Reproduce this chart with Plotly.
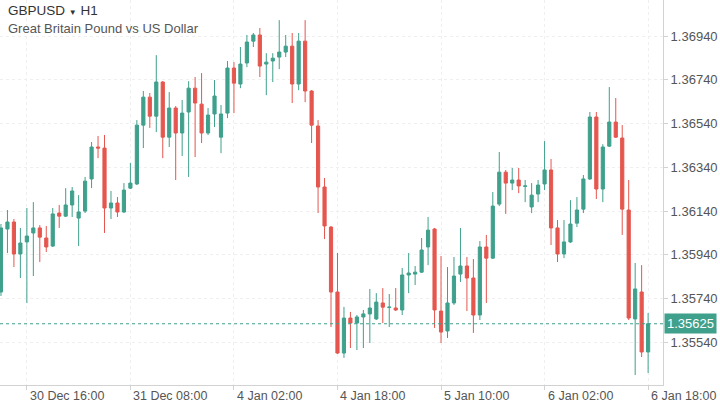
import plotly.graph_objects as go

# ---- data (GBPUSD, H1) ----
candle_idx = list(range(101))
opens = [1.35770, 1.36058, 1.36090, 1.35944, 1.35999, 1.36040, 1.36063, 1.36017, 1.35980, 1.36131,
         1.36117, 1.36168, 1.36108, 1.36140, 1.36287, 1.36433, 1.36428, 1.36154, 1.36177, 1.36136,
         1.36245, 1.36264, 1.36533, 1.36661, 1.36574, 1.36730, 1.36478, 1.36611, 1.36497, 1.36593,
         1.36702, 1.36629, 1.36497, 1.36584, 1.36478, 1.36588, 1.36794, 1.36721, 1.36817, 1.36917,
         1.36945, 1.36812, 1.36826, 1.36844, 1.36867, 1.36894, 1.36721, 1.36917, 1.36689, 1.36529,
         1.36250, 1.36067, 1.35770, 1.35491, 1.35651, 1.35628, 1.35656, 1.35670, 1.35647, 1.35720,
         1.35699, 1.35697, 1.35688, 1.35848, 1.35852, 1.35861, 1.35976, 1.36058, 1.35683, 1.35592,
         1.35720, 1.35852, 1.35889, 1.35834, 1.35665, 1.35976, 1.35925, 1.36172, 1.36318, 1.36268,
         1.36282, 1.36253, 1.36159, 1.36218, 1.36264, 1.36328, 1.36063, 1.35944, 1.35999, 1.36085,
         1.36149, 1.36287, 1.36570, 1.36241, 1.36437, 1.36547, 1.36474, 1.36145, 1.35647, 1.35770,
         1.35496]
highs = [1.36081, 1.36145, 1.36104, 1.36063, 1.36154, 1.36181, 1.36076, 1.36072, 1.36154, 1.36168,
         1.36245, 1.36250, 1.36213, 1.36296, 1.36456, 1.36483, 1.36488, 1.36232, 1.36204, 1.36268,
         1.36360, 1.36556, 1.36689, 1.36680, 1.36853, 1.36734, 1.36684, 1.36620, 1.36648, 1.36734,
         1.36753, 1.36771, 1.36611, 1.36739, 1.36625, 1.36826, 1.36821, 1.36890, 1.36945, 1.36954,
         1.36977, 1.36862, 1.36862, 1.37013, 1.36945, 1.36954, 1.36954, 1.37013, 1.36693, 1.36556,
         1.36291, 1.36072, 1.35948, 1.35702, 1.35679, 1.35665, 1.35688, 1.35784, 1.35765, 1.35788,
         1.35761, 1.35788, 1.35880, 1.35948, 1.35889, 1.36017, 1.36113, 1.36063, 1.35935, 1.35884,
         1.35930, 1.36063, 1.35930, 1.35921, 1.36003, 1.36031, 1.36227, 1.36410, 1.36328, 1.36337,
         1.36337, 1.36282, 1.36268, 1.36282, 1.36460, 1.36378, 1.36099, 1.36099, 1.36190, 1.36204,
         1.36305, 1.36593, 1.36593, 1.36446, 1.36707, 1.36657, 1.36533, 1.36282, 1.35903, 1.35893,
         1.35674]
lows = [1.35752, 1.35948, 1.35884, 1.35834, 1.35720, 1.35843, 1.35907, 1.35953, 1.35976, 1.36063,
        1.36113, 1.36113, 1.35980, 1.36131, 1.36245, 1.36382, 1.36040, 1.36104, 1.36113, 1.36131,
        1.36241, 1.36259, 1.36428, 1.36520, 1.36501, 1.36382, 1.36433, 1.36282, 1.36392, 1.36296,
        1.36387, 1.36451, 1.36488, 1.36524, 1.36405, 1.36565, 1.36588, 1.36702, 1.36798, 1.36890,
        1.36753, 1.36670, 1.36730, 1.36789, 1.36844, 1.36634, 1.36693, 1.36638, 1.36451, 1.36131,
        1.36012, 1.35610, 1.35487, 1.35469, 1.35514, 1.35505, 1.35514, 1.35537, 1.35642, 1.35628,
        1.35610, 1.35683, 1.35665, 1.35765, 1.35802, 1.35857, 1.35893, 1.35606, 1.35537, 1.35560,
        1.35711, 1.35816, 1.35683, 1.35583, 1.35642, 1.35720, 1.35921, 1.36163, 1.36127, 1.36236,
        1.36222, 1.36181, 1.36131, 1.36181, 1.36236, 1.35985, 1.35907, 1.35925, 1.35994, 1.36067,
        1.36131, 1.36282, 1.36195, 1.36181, 1.36433, 1.36474, 1.36031, 1.35642, 1.35391, 1.35473,
        1.35400]
closes = [1.36063, 1.36090, 1.35944, 1.35994, 1.36026, 1.36063, 1.36021, 1.35976, 1.36127, 1.36117,
          1.36168, 1.36232, 1.36136, 1.36277, 1.36433, 1.36428, 1.36154, 1.36177, 1.36136, 1.36236,
          1.36268, 1.36533, 1.36661, 1.36574, 1.36730, 1.36478, 1.36611, 1.36497, 1.36588, 1.36702,
          1.36634, 1.36497, 1.36579, 1.36666, 1.36584, 1.36794, 1.36725, 1.36812, 1.36913, 1.36945,
          1.36803, 1.36821, 1.36839, 1.36867, 1.36894, 1.36721, 1.36917, 1.36689, 1.36533, 1.36250,
          1.36072, 1.35770, 1.35491, 1.35651, 1.35628, 1.35656, 1.35670, 1.35697, 1.35724, 1.35701,
          1.35701, 1.35688, 1.35848, 1.35857, 1.35861, 1.35962, 1.36053, 1.35688, 1.35587, 1.35720,
          1.35843, 1.35889, 1.35834, 1.35665, 1.35976, 1.35925, 1.36163, 1.36318, 1.36268, 1.36282,
          1.36255, 1.36255, 1.36213, 1.36259, 1.36328, 1.36063, 1.35944, 1.35999, 1.36081, 1.36145,
          1.36287, 1.36570, 1.36241, 1.36433, 1.36547, 1.36478, 1.36149, 1.35651, 1.35784, 1.35496,
          1.35625]

time_tick_idx = [4, 20, 36, 52, 68, 84, 100]
time_tick_labels = ["30 Dec 16:00", "31 Dec 08:00", "4 Jan 02:00", "4 Jan 18:00",
                    "5 Jan 10:00", "6 Jan 02:00", "6 Jan 18:00"]
price_ticks = [1.35540, 1.35740, 1.35940, 1.36140, 1.36340, 1.36540, 1.36740, 1.36940]
last_price = 1.35625
symbol = "GBPUSD"
timeframe = "H1"
description = "Great Britain Pound vs US Dollar"

# ---- style ----
GREEN = "#3fa08c"
RED = "#e5564e"
GRID = "#efefef"
BORDER = "#d2d2d2"
FONT = "Liberation Sans, Arial, sans-serif"

fig = go.Figure(go.Candlestick(
    x=candle_idx, open=opens, high=highs, low=lows, close=closes,
    increasing=dict(line=dict(color=GREEN, width=1), fillcolor=GREEN),
    decreasing=dict(line=dict(color=RED, width=1), fillcolor=RED),
    whiskerwidth=0, hoverinfo="skip", showlegend=False,
))

fig.update_layout(
    width=720, height=405,
    margin=dict(l=0, r=57, t=0, b=20),
    paper_bgcolor="white", plot_bgcolor="white",
    font=dict(family=FONT, color="#555555", size=13),
    showlegend=False,
    xaxis=dict(
        range=[-0.15, 102.3], rangeslider=dict(visible=False),
        tickvals=time_tick_idx, showticklabels=False,
        showgrid=True, gridcolor=GRID, griddash="dot", gridwidth=1,
        ticks="outside", ticklen=4, tickcolor=BORDER,
        showline=True, linecolor=BORDER, linewidth=1, zeroline=False,
        fixedrange=True,
    ),
    yaxis=dict(
        side="right", range=[1.35345, 1.37105],
        tickvals=price_ticks, ticktext=[f"{v:.5f}" for v in price_ticks],
        showgrid=True, gridcolor=GRID, griddash="dot", gridwidth=1,
        ticks="outside", ticklen=4, tickcolor=BORDER,
        showline=True, linecolor=BORDER, linewidth=1, mirror=True,
        zeroline=False, tickfont=dict(size=13, color="#555555"),
        fixedrange=True,
    ),
)

# time labels, left-aligned at their ticks
for i, lab in zip(time_tick_idx, time_tick_labels):
    fig.add_annotation(x=i, xref="x", y=0, yref="paper", text=lab,
                       xanchor="left", yanchor="top", showarrow=False,
                       xshift=1, yshift=-2, font=dict(size=12.5, color="#555555"))

# last price line and label
fig.add_shape(type="line", xref="paper", x0=0, x1=1, yref="y", y0=last_price, y1=last_price,
              line=dict(color=GREEN, width=1, dash="dot"))
fig.add_annotation(x=1, xref="paper", y=last_price, yref="y", text=f"{last_price:.5f}",
                   xanchor="left", yanchor="middle", showarrow=False, xshift=1,
                   bgcolor=GREEN, borderpad=2, font=dict(size=13, color="white"))

# header
fig.add_annotation(x=6 / 663, xref="paper", y=1 - 10 / 385, yref="paper",
                   text=f"{symbol} <span style='font-size:8px'>▼</span> {timeframe}",
                   xanchor="left", yanchor="middle", showarrow=False,
                   font=dict(size=13.5, color="#333333"))
fig.add_annotation(x=6 / 663, xref="paper", y=1 - 28 / 385, yref="paper",
                   text=description, xanchor="left", yanchor="middle", showarrow=False,
                   font=dict(size=13, color="#555555"))

fig.write_html("out.html")
